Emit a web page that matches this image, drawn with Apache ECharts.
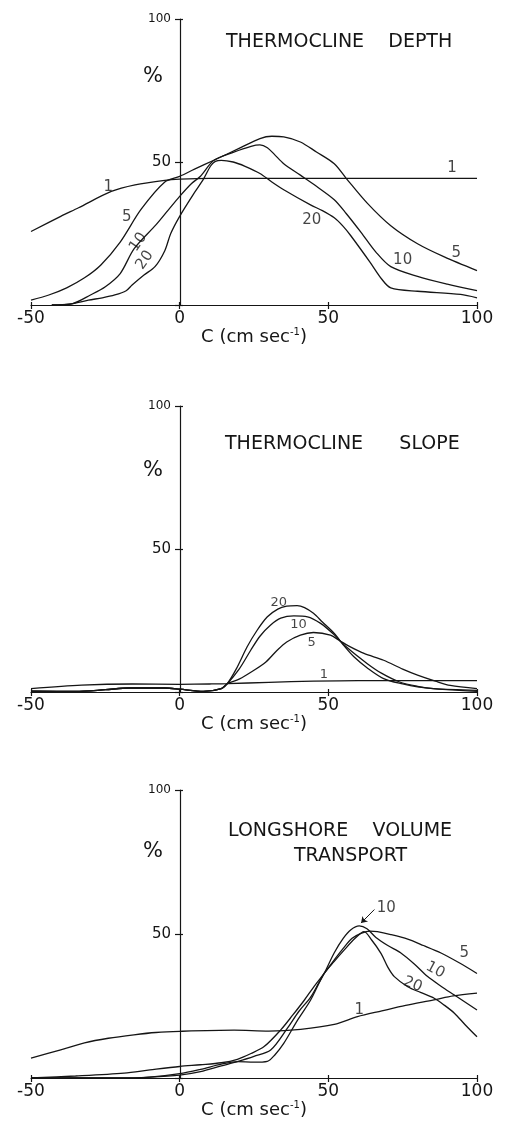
<!DOCTYPE html>
<html>
<head>
<meta charset="utf-8">
<script src="https://cdn.jsdelivr.net/npm/echarts@6/dist/echarts.min.js"></script>
<style>
  html, body { margin: 0; padding: 0; background: #fff; }
  #chart { width: 505px; height: 1122px; }
</style>
</head>
<body>
<div id="chart"></div>
<script>
// axis ticks
const xTicks = [-50, 0, 50, 100];
const xTickLabels = ['-50', '0', '50', '100'];
const yTicks = [0, 50, 100];
const yTickLabels = ['', '50', '100'];

// THERMOCLINE DEPTH  ([C, %])
const depth1 = [[-50, 25.7], [-40, 31], [-34, 34], [-23, 39.7], [-15, 42], [-5, 43.6], [0, 44], [10, 44.3], [50, 44.3], [100, 44.3]];
const depth5 = [[-50, 1.7], [-44, 3.5], [-38, 6], [-32, 9.5], [-26.5, 14], [-20, 22], [-13, 33.4], [-5, 43], [0, 45], [5, 47.5], [11.5, 50.6], [20.5, 55], [27, 58.2], [31, 59], [35, 58.8], [40.6, 57], [46, 53.5], [52, 49.4], [56, 44.3], [63, 35.7], [71, 27.7], [80, 21.4], [89, 16.8], [100, 12]];
const depth10 = [[-43, 0], [-36, 0.5], [-30, 3.5], [-25, 6.4], [-20, 11], [-15.3, 19.7], [-8, 28], [-4, 33], [0, 38], [4, 42.5], [7, 45], [11.5, 50.6], [18, 53.4], [24, 55.5], [27, 56], [29.5, 55], [32, 52.5], [35, 49.4], [40.6, 45.4], [46, 41.5], [52, 36.8], [56, 32], [61, 25.4], [66, 18.5], [71, 13.4], [80, 10], [90, 7.3], [100, 5]];
const depth20 = [[-43, 0], [-37, 0.3], [-30.7, 1.7], [-26, 2.5], [-21.8, 3.5], [-18, 5], [-16, 7], [-12, 10.5], [-8.3, 13.4], [-5, 19], [-3, 25], [0, 31], [4.8, 39], [8, 44], [10.4, 48.6], [12, 50.2], [14, 50.6], [18, 50], [22, 48.5], [27, 46], [31, 43], [35, 40.3], [44, 35], [48, 33], [52, 30.5], [55, 27.5], [57.5, 24.3], [64, 15], [68, 9], [71, 6], [80, 4.8], [94.5, 3.7], [100, 2.5]];
const depthTags = [[-24, 41.3, '1', 0], [91.6, 48, '1', 0], [-17.8, 30.8, '5', 0], [93, 18, '5', 0],
  [-13.9, 22, '10', 55], [75, 15.7, '10', 0], [-11.7, 15.7, '20', 55], [44.4, 29.7, '20', 0]];

// THERMOCLINE SLOPE
const slope1 = [[-50, 1.2], [-33, 2.4], [-16, 2.8], [0, 2.7], [10, 2.8], [16, 2.9], [30, 3.4], [45, 3.8], [60, 4], [100, 4]];
const slope5 = [[-50, 0.3], [-35, 0.2], [-25, 0.8], [-17, 1.4], [-5, 1.4], [0, 1], [8, 0.2], [14, 1.2], [16, 2.9], [20, 4.5], [25, 7.6], [29, 10.5], [32.8, 14.6], [36, 17.5], [40.6, 19.9], [45, 20.8], [50.7, 19.9], [54, 17.8], [57.4, 15.8], [62, 13.5], [68.6, 11.1], [75, 8], [80, 5.9], [86, 3.8], [91, 2.3], [100, 1.2]];
const slope10 = [[-50, 0.3], [-35, 0.2], [-25, 0.8], [-17, 1.4], [-5, 1.4], [0, 1], [8, 0.2], [14, 1.2], [16, 2.9], [20, 8], [23.9, 14.6], [27, 19.5], [30.6, 23.4], [34, 25.8], [38.4, 26.6], [43, 26.3], [47.4, 24], [52, 20], [56, 15.8], [63, 10], [68, 6.5], [74, 3.5], [80, 2], [85.4, 1.2], [100, 0.6]];
const slope20 = [[-50, 0.3], [-35, 0.2], [-25, 0.8], [-17, 1.4], [-5, 1.4], [0, 1], [8, 0.2], [14, 1.2], [16, 2.9], [19, 8], [22.7, 15.8], [26, 21.5], [29.5, 26.3], [33, 29], [36, 30], [39.5, 30.2], [42, 29.5], [45, 27.5], [48, 24.5], [52, 20.5], [55, 16.5], [58.6, 12.3], [63, 8.5], [68.6, 4.7], [75, 2.8], [80, 1.8], [90, 0.8], [100, 0.2]];
const slopeTags = [[33.3, 31.2, '20', 0], [40, 23.5, '10', 0], [44.4, 17.2, '5', 0], [48.5, 6, '1', 0]];

// LONGSHORE VOLUME TRANSPORT
const transport1 = [[-50, 6.9], [-40, 9.8], [-32, 12.2], [-24, 13.8], [-15.4, 15], [-8, 15.8], [0, 16.2], [18.3, 16.6], [30, 16.3], [40.7, 16.9], [52, 18.6], [59.8, 21.3], [68, 23.3], [76, 25.2], [85.5, 27.1], [92, 28.5], [100, 29.5]];
const transport5 = [[-50, 0], [-35, 0.7], [-18.7, 1.7], [-10, 2.8], [0, 4], [7, 4.6], [14, 5.3], [19.4, 6.5], [24, 8.5], [28.4, 10.9], [34, 16.7], [38, 21.8], [41.9, 27], [45, 31.5], [48.6, 36.3], [52, 41], [55, 45], [58, 48.5], [61, 50.2], [64, 51], [66.5, 50.8], [71, 49.8], [76.7, 48.2], [82, 46], [87.9, 43.4], [94, 40], [100, 36.3]];
const transport10 = [[-50, 0], [-20, 0], [-10, 0.3], [0, 1], [7, 2.2], [14, 4.2], [19.4, 5.7], [25, 7.5], [30.6, 9.7], [36.3, 17.4], [40, 23], [44, 28], [46.5, 32.5], [48.6, 36.3], [52, 43.5], [55, 48.5], [57.6, 51.5], [60.4, 52.8], [63, 51.8], [66, 48.8], [70, 46], [74.4, 43.4], [79, 39.5], [83.4, 35.2], [88, 31.8], [92.4, 28.8], [100, 23.6]];
const transport20 = [[-50, 0], [-20, 0], [-10, 0.3], [0, 1.5], [7, 3], [14, 4.8], [19.4, 5.7], [25, 5.5], [29.5, 5.8], [32, 8], [35, 12], [39.6, 20], [44, 27], [48.6, 36.3], [52, 40.5], [55.3, 44.4], [59, 48.5], [62, 50.8], [64.5, 48], [67.7, 43.3], [70, 38.5], [72.2, 35.2], [76.7, 31.7], [81, 29.7], [85.6, 27.7], [89, 25.3], [92.4, 22.5], [96, 18.5], [100, 14.3]];
const transportTags = [[69.5, 59, '10', 0], [95.7, 43.4, '5', 0], [86, 37.5, '10', -28], [78.4, 32.5, '20', -22], [60.4, 23.5, '1', 0]];
const transportArrow = [[65.5, 58.5], [61, 53.8]];

const FONT = 'DejaVu Sans';
const INK = '#151515';
// y axis sits on C = 0: 50 of the 150 units right of the grid's left edge (446 px wide)
const Y_SHIFT = -Math.round(446 * 50 / 150);

const panels = [
  { top: 19, height: 286, curves: [depth1, depth5, depth10, depth20], tags: depthTags, tagSize: 15 },
  { top: 406, height: 286, curves: [slope1, slope5, slope10, slope20], tags: slopeTags, tagSize: 13 },
  { top: 790, height: 288, curves: [transport1, transport5, transport10, transport20], tags: transportTags, tagSize: 15 }
];

const grid = [], xAxis = [], yAxis = [], series = [];
const tickLine = { color: INK, width: 1.2 };

panels.forEach((p, i) => {
  grid.push({ left: 31, right: 28, top: p.top, height: p.height });
  xAxis.push({
    type: 'value', gridIndex: i, min: -50, max: 100, interval: 50, position: 'bottom',
    name: 'C (cm sec{sup|-1})', nameLocation: 'middle', nameGap: 22,
    nameTextStyle: {
      fontFamily: FONT, fontSize: 18, color: INK, verticalAlign: 'top',
      rich: { sup: { fontFamily: FONT, fontSize: 10, color: INK, verticalAlign: 'top', lineHeight: 12 } }
    },
    axisLine: { onZero: false, lineStyle: tickLine },
    axisTick: { show: true, length: 4, lineStyle: tickLine },
    axisLabel: {
      fontFamily: FONT, fontSize: 17, color: INK, margin: 5,
      formatter: v => xTickLabels[xTicks.indexOf(v)] || ''
    },
    splitLine: { show: false }
  });
  yAxis.push({
    type: 'value', gridIndex: i, min: 0, max: 100, interval: 50,
    position: 'left', offset: Y_SHIFT,
    axisLine: { show: true, onZero: false, lineStyle: tickLine },
    axisTick: { show: true, length: 5, lineStyle: tickLine },
    axisLabel: {
      fontFamily: FONT, fontSize: 15, color: INK, margin: 9,
      formatter: v => {
        const t = yTickLabels[yTicks.indexOf(v)] || '';
        return t === '100' ? '{s|100}' : t;
      },
      rich: { s: { fontFamily: FONT, fontSize: 12, color: INK } }
    },
    splitLine: { show: false }
  });
  p.curves.forEach(c => {
    series.push({
      type: 'line', xAxisIndex: i, yAxisIndex: i, data: c,
      symbol: 'none', smooth: 0.3, silent: true,
      lineStyle: { color: INK, width: 1.3 }
    });
  });
  series.push({
    type: 'scatter', xAxisIndex: i, yAxisIndex: i, silent: true,
    symbolSize: 1, itemStyle: { color: 'rgba(0,0,0,0)' },
    data: p.tags.map(t => ({
      value: [t[0], t[1]],
      label: { show: true, position: 'inside', formatter: t[2], rotate: t[3],
        fontFamily: FONT, fontSize: p.tagSize, color: INK }
    }))
  });
});

// second set of axes only to draw the inner half of each cross-shaped tick
panels.forEach((p, i) => {
  xAxis.push({
    type: 'value', gridIndex: i, min: -50, max: 100, interval: 50, position: 'bottom',
    axisLine: { show: false, onZero: false },
    axisTick: { show: true, inside: true, length: 3, lineStyle: tickLine },
    axisLabel: { show: false }, splitLine: { show: false }
  });
  yAxis.push({
    type: 'value', gridIndex: i, min: 0, max: 100, interval: 50,
    position: 'left', offset: Y_SHIFT,
    axisLine: { show: false, onZero: false },
    axisTick: { show: true, inside: true, length: 3, lineStyle: tickLine },
    axisLabel: { show: false }, splitLine: { show: false }
  });
});

// hooked pointer for the peak of curve 10 in the transport panel
series.push({
  type: 'line', xAxisIndex: 2, yAxisIndex: 2, data: [], silent: true,
  markLine: {
    silent: true, symbol: ['none', 'arrow'], symbolSize: 6,
    label: { show: false },
    lineStyle: { color: INK, width: 1, type: 'solid', curveness: 0.4 },
    data: [[{ coord: transportArrow[0] }, { coord: transportArrow[1] }]]
  }
});

const textStyle = { fontFamily: FONT, fontSize: 19, fontWeight: 'normal', color: INK };
const pct = { fontFamily: FONT, fontSize: 21, fontWeight: 'normal', color: INK };
const title = [
  { text: 'THERMOCLINE    DEPTH', left: 226, top: 33, padding: 0, textStyle },
  { text: 'THERMOCLINE      SLOPE', left: 225, top: 435, padding: 0, textStyle },
  { text: 'LONGSHORE    VOLUME', left: 228, top: 822, padding: 0, textStyle },
  { text: 'TRANSPORT', left: 294, top: 847, padding: 0, textStyle },
  { text: '%', left: 143, top: 66, padding: 0, textStyle: pct },
  { text: '%', left: 143, top: 460, padding: 0, textStyle: pct },
  { text: '%', left: 143, top: 841, padding: 0, textStyle: pct }
];

const chart = echarts.init(document.getElementById('chart'), null, { renderer: 'canvas' });
chart.setOption({
  backgroundColor: '#fff',
  animation: false,
  title, grid, xAxis, yAxis, series
});
</script>
</body>
</html>
